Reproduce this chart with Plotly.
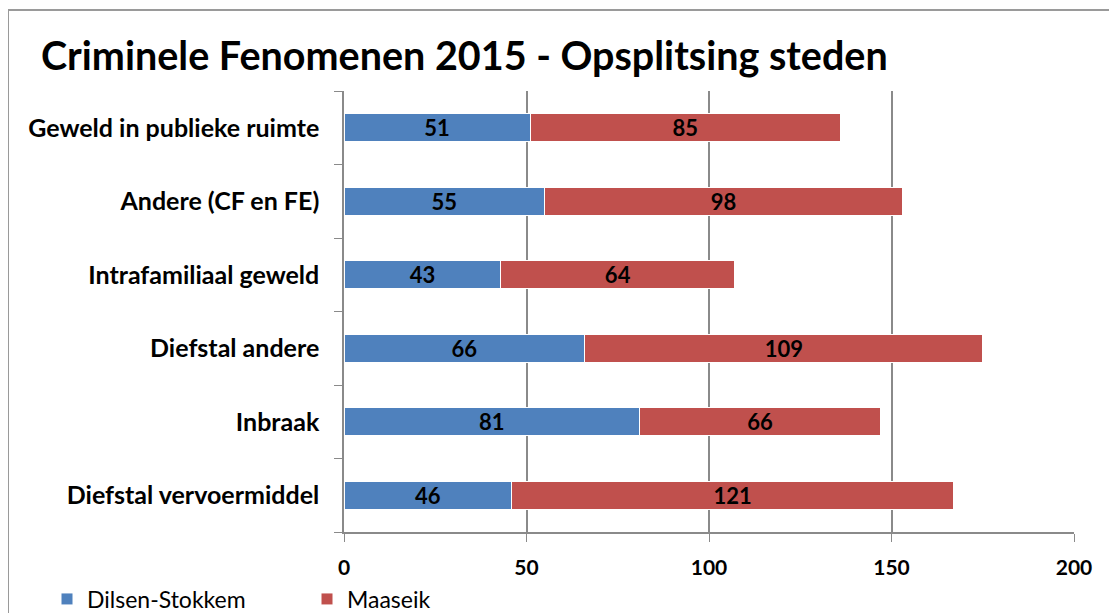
import plotly.graph_objects as go

categories = ["Geweld in publieke ruimte", "Andere (CF en FE)", "Intrafamiliaal geweld",
              "Diefstal andere", "Inbraak", "Diefstal vervoermiddel"]
dilsen = [51, 55, 43, 66, 81, 46]
maaseik = [85, 98, 64, 109, 66, 121]
x_ticks = [0, 50, 100, 150, 200]

FONT = "Lato"
OFF = 8  # page body margin
W, H = 1117, 613
# desired plot area in window pixels
PL, PR, PT, PB = 344, 1074, 91, 532
L = PL - OFF
T = PT - OFF
R = W - (PR - OFF)
B = H - (PB - OFF)
pw = PR - PL
ph = PB - PT

def px(xw):
    return (xw - PL) / pw

def py(yw):
    return (PB - yw) / ph

fig = go.Figure()
for name, vals, col in [("Dilsen-Stokkem", dilsen, "#4F81BD"), ("Maaseik", maaseik, "#C0504D")]:
    fig.add_trace(go.Bar(
        y=categories, x=vals, name=name, orientation="h",
        marker=dict(color=col, line=dict(color="white", width=1)),
        width=0.38,
        text=vals, texttemplate="%{x}", textposition="inside",
        insidetextanchor="middle", textangle=0,
        textfont=dict(family=FONT, size=22, color="black", weight="bold"),
        constraintext="none",
    ))

fig.update_layout(
    barmode="stack",
    width=W, height=H,
    margin=dict(l=L, r=R, t=T, b=B, autoexpand=False),
    paper_bgcolor="white", plot_bgcolor="white",
    title=dict(text="<b>Criminele Fenomenen 2015 - Opsplitsing steden</b>",
               font=dict(family=FONT, size=39.5, color="black"),
               xref="container", yref="container",
               x=(41 - OFF) / W, xanchor="left", y=1 - (56 - OFF) / H, yanchor="middle"),
    xaxis=dict(range=[0, 200], tickvals=x_ticks, showgrid=True, gridcolor="#8a8a8a", gridwidth=1.5,
               showline=True, linecolor="#8a8a8a", linewidth=1.5, ticks="outside",
               ticklen=8, tickcolor="#8a8a8a", zeroline=False, ticklabelstandoff=8,
               automargin=False,
               tickfont=dict(family=FONT, size=21, color="black", weight="bold")),
    yaxis=dict(categoryorder="array", categoryarray=categories[::-1],
               showline=True, linecolor="#8a8a8a", linewidth=1.5, ticks="outside",
               tickson="boundaries", ticklen=8, tickcolor="#8a8a8a", automargin=False,
               tickfont=dict(family=FONT, size=25, color="black", weight="bold"),
               ticklabelstandoff=18),
    showlegend=True,
    legend=dict(orientation="h", xref="container", yref="container",
                x=(47 - OFF) / W, xanchor="left", y=1 - (599 - OFF) / H, yanchor="middle",
                font=dict(family=FONT, size=23, color="black"),
                entrywidth=215, entrywidthmode="pixels", traceorder="normal",
                bgcolor="rgba(0,0,0,0)"),
)

fig.add_shape(type="rect", xref="paper", yref="paper",
              x0=px(8), x1=px(1140), y0=py(650), y1=py(10),
              line=dict(color="#9a9a9a", width=2), layer="below")

fig.write_html("out.html")
